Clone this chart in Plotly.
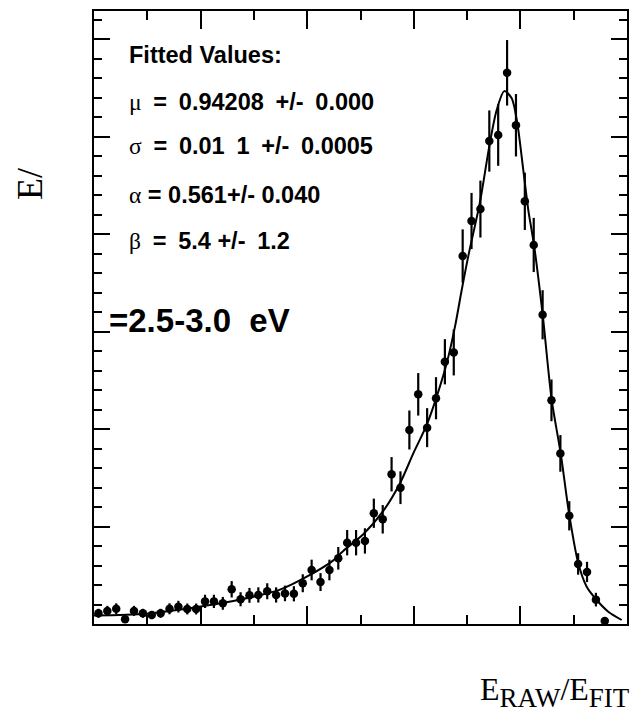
import plotly.graph_objects as go

# ---- data ----
bin_centers = [0.75208, 0.75625, 0.76042, 0.76458, 0.76875, 0.77292, 0.77708, 0.78125,
               0.78542, 0.78958, 0.79375, 0.79792, 0.80208, 0.80625, 0.81042, 0.81458,
               0.81875, 0.82292, 0.82708, 0.83125, 0.83542, 0.83958, 0.84375, 0.84792,
               0.85208, 0.85625, 0.86042, 0.86458, 0.86875, 0.87292, 0.87708, 0.88125,
               0.88542, 0.88958, 0.89375, 0.89792, 0.90208, 0.90625, 0.91042, 0.91458,
               0.91875, 0.92292, 0.92708, 0.93125, 0.93542, 0.93958, 0.94375, 0.94792,
               0.95208, 0.95625, 0.96042, 0.96458, 0.96875, 0.97292, 0.97708, 0.98125,
               0.98542, 0.98958]
counts = [5.5, 6.7, 7.8, 2.4, 6.7, 5.5, 4.6, 5.5, 7.8, 8.9, 7.7, 7.7, 11.6, 11.6, 10.6, 17.8,
          12.7, 14.7, 14.9, 16.8, 14.9, 15.7, 15.5, 20.9, 27.7, 21.5, 27.7, 33.7, 41.7, 41.7,
          42.6, 56.8, 53.7, 76.8, 69.9, 99.5, 117.8, 100.7, 115.8, 134.5, 139.3, 188.7, 206.7,
          212.8, 247.7, 250.8, 282.7, 255.8, 216.8, 194.4, 158.6, 114.7, 87.5, 55.5, 30.8,
          26.7, 12.5, 1.5]
errors = [2.3, 2.6, 2.8, 1.5, 2.6, 2.3, 2.1, 2.3, 2.8, 3.0, 2.8, 2.8, 3.4, 3.4, 3.3, 4.2,
          3.6, 3.8, 3.9, 4.1, 3.9, 4.0, 3.9, 4.6, 5.3, 4.6, 5.3, 5.8, 6.5, 6.5, 6.5, 7.5,
          7.3, 8.8, 8.4, 10.0, 10.9, 10.0, 10.8, 11.6, 11.8, 13.7, 14.4, 14.6, 15.7, 15.8,
          16.8, 16.0, 14.7, 13.9, 12.6, 10.7, 9.4, 7.5, 5.5, 5.2, 3.5, 1.2]

fit_x = [0.75, 0.77472, 0.80005, 0.81895, 0.83724, 0.85023, 0.86210, 0.86693, 0.87631,
         0.88569, 0.89353, 0.89976, 0.90605, 0.91074, 0.91543, 0.91932, 0.92247, 0.92556,
         0.93105, 0.93541, 0.93888, 0.94245, 0.94592, 0.94855, 0.95136, 0.95371, 0.95638,
         0.96046, 0.96468, 0.96890, 0.97293, 0.97715, 0.98109, 0.98578, 0.99122, 0.99751]
fit_y = [4.4, 5.3, 9.0, 12.6, 17.6, 24.5, 32.5, 37.5, 46.0, 58.0, 72.2, 87.5, 102.1, 116.6,
         133.7, 152.5, 171.3, 188.7, 216.5, 245.0, 263.6, 273.3, 269.6, 256.8, 232.8, 212.3,
         194.4, 158.5, 114.9, 87.5, 55.9, 31.1, 19.1, 12.3, 6.3, 2.05]

x_range = [0.75, 1.0]
y_range = [0, 314.4]

fig = go.Figure()
fig.add_trace(go.Scatter(x=fit_x, y=fit_y, mode="lines",
                         line=dict(color="black", width=2, shape="spline", smoothing=0.8),
                         hoverinfo="skip", showlegend=False))
fig.add_trace(go.Scatter(x=bin_centers, y=counts, mode="markers",
                         marker=dict(color="black", size=8.5),
                         error_y=dict(type="data", array=errors, width=0, thickness=2.2, color="black"),
                         showlegend=False))
# dummy trace to activate mirrored axes
fig.add_trace(go.Scatter(x=[None], y=[None], xaxis="x2", yaxis="y2", showlegend=False, hoverinfo="skip"))

xcommon = dict(range=x_range, tick0=0.75, dtick=0.05, ticks="inside", ticklen=18, tickwidth=2,
               tickcolor="black", showline=True, linecolor="black", linewidth=2,
               showgrid=False, zeroline=False, showticklabels=False,
               minor=dict(ticks="inside", ticklen=9, tickwidth=2, tickcolor="black",
                          tick0=0.75, dtick=0.025, showgrid=False))
ycommon = dict(range=y_range, tick0=0, dtick=50, ticks="inside", ticklen=16, tickwidth=2,
               tickcolor="black", showline=True, linecolor="black", linewidth=2,
               showgrid=False, zeroline=False, showticklabels=False,
               minor=dict(ticks="inside", ticklen=8, tickwidth=2, tickcolor="black",
                          tick0=0, dtick=10, showgrid=False))

fig.update_layout(
    width=641, height=717,
    margin=dict(l=94, r=14, t=11, b=93),
    paper_bgcolor="white", plot_bgcolor="white",
    xaxis=dict(**xcommon),
    yaxis=dict(**ycommon),
    xaxis2=dict(**xcommon, overlaying="x", side="top", anchor="y"),
    yaxis2=dict(**ycommon, overlaying="y", side="right", anchor="x"),
    showlegend=False,
)

def px(xp):
    return (xp - 94) / 533.0

def py(yp):
    return (624 - yp) / 613.0

W = "\u2002"  # wider space, as in the reference's spacing
bold = dict(family="Liberation Sans, Arial, sans-serif", size=23.5, color="black")
greek = '<span style="font-family:Liberation Serif;font-weight:normal">%s</span>'
lines = [
    ("<b>Fitted Values:</b>", 55),
    (greek % "μ" + "<b>" + W + "=" + W + "0.94208" + W + "+/-" + W + "0.000</b>", 102),
    (greek % "σ" + "<b>" + W + "=" + W + "0.01" + W + "1" + W + "+/-" + W + "0.0005</b>", 146),
    (greek % "α" + "<b> = 0.561+/- 0.040</b>", 195),
    (greek % "β" + "<b>" + W + "=" + W + "5.4 +/-" + W + "1.2</b>", 241),
]
for txt, yy in lines:
    fig.add_annotation(text=txt, xref="paper", yref="paper", x=px(127), y=py(yy),
                       xanchor="left", yanchor="middle", showarrow=False, font=bold)

fig.add_annotation(text="<b>=2.5-3.0  eV</b>", xref="paper", yref="paper", x=px(107), y=py(320),
                   xanchor="left", yanchor="middle", showarrow=False,
                   font=dict(family="Liberation Sans, Arial, sans-serif", size=33, color="black"))

sub = '<sub><span style="font-size:27px">%s</span></sub>'
fig.add_annotation(text="E" + sub % "RAW" + "/E" + sub % "FIT", xref="paper", yref="paper",
                   x=px(632), y=py(692), xanchor="right", yanchor="middle", showarrow=False,
                   font=dict(family="Liberation Serif, Times New Roman, serif", size=32, color="black"))

fig.add_annotation(text="E/", xref="paper", yref="paper", x=px(30), y=py(184),
                   xanchor="center", yanchor="middle", textangle=-90, showarrow=False,
                   font=dict(family="Liberation Serif, Times New Roman, serif", size=36, color="black"))

fig.write_html("out.html")
